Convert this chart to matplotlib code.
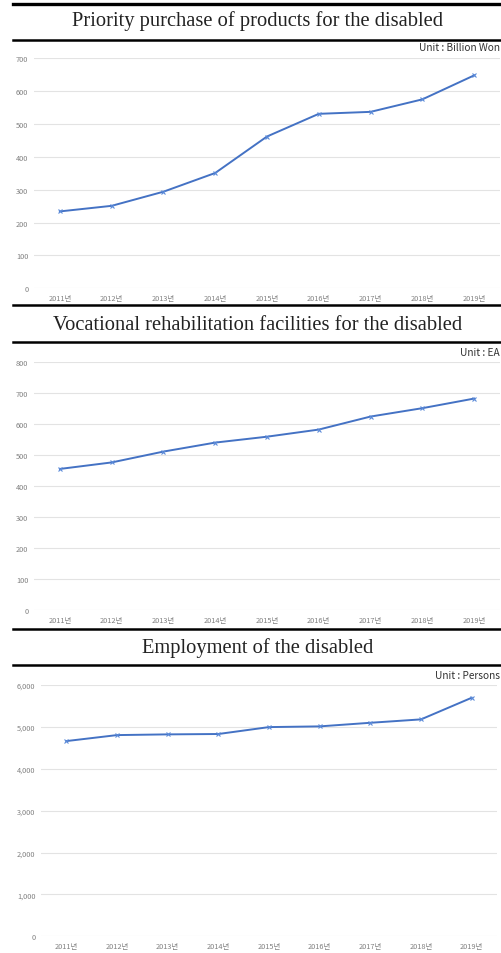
import matplotlib
matplotlib.use('Agg')
import matplotlib.pyplot as plt
from matplotlib.lines import Line2D
from matplotlib.ticker import FuncFormatter

years = ['2011년', '2012년', '2013년', '2014년', '2015년', '2016년', '2017년', '2018년', '2019년']

purchase = [234, 251, 294, 351, 462, 531, 537, 575, 648]
facilities = [456, 477, 512, 541, 560, 583, 625, 652, 683]
employment = [4661, 4804, 4821, 4830, 4995, 5012, 5098, 5179, 5695]

titles = ['Priority purchase of products for the disabled',
          'Vocational rehabilitation facilities for the disabled',
          'Employment of the disabled']
units = ['Unit : Billion Won', 'Unit : EA', 'Unit : Persons']

W, H = 502, 954
fig = plt.figure(figsize=(W / 100, H / 100), dpi=100)
fig.patch.set_facecolor('white')

sans = ['Noto Sans CJK KR', 'DejaVu Sans']


def px_line(y, lw):
    fig.add_artist(Line2D([13 / W, 1.0], [1 - y / H, 1 - y / H],
                          color='black', linewidth=lw, transform=fig.transFigure))


def px_text(x, y, s, **kw):
    fig.text(x / W, 1 - y / H, s, **kw)


# panel layout in pixels: top line, title y, title line, unit y, axes left/right, y top/bottom
panels = [
    dict(data=purchase, ymax=700, step=100, top=5, ty=21, tl=41, uy=48,
         left=34, right=500, ytop=59.3, ybot=289.3),
    dict(data=facilities, ymax=800, step=100, top=306, ty=326, tl=343, uy=353,
         left=34, right=500, ytop=363.3, ybot=611.3),
    dict(data=employment, ymax=6000, step=1000, top=629.5, ty=648, tl=666, uy=676,
         left=41, right=497, ytop=686, ybot=937.3),
]

for i, p in enumerate(panels):
    px_line(p['top'], 2.4 if i == 0 else 1.8)
    px_text(258, p['ty'], titles[i], ha='center', va='center',
            family='Liberation Serif', fontsize=14.8, color='#222222')
    px_line(p['tl'], 1.8)
    px_text(500, p['uy'], units[i], ha='right', va='center',
            family=sans, fontsize=7.3, color='#333333')

    ax = fig.add_axes([p['left'] / W, 1 - p['ybot'] / H,
                       (p['right'] - p['left']) / W, (p['ybot'] - p['ytop']) / H])
    xs = range(len(years))
    ax.plot(xs, p['data'], color='#4472C4', linewidth=1.4, marker='x',
            markersize=3.5, markeredgewidth=0.8, markeredgecolor='#5B8BD9')
    ax.set_xlim(-0.5, len(years) - 0.5)
    ax.set_ylim(0, p['ymax'])
    ax.set_yticks(range(0, p['ymax'] + 1, p['step']))
    ax.yaxis.set_major_formatter(FuncFormatter(lambda v, _: f'{int(v):,}'))
    ax.set_xticks(list(xs))
    ax.set_xticklabels(years)
    ax.grid(axis='y', color='#e3e3e3', linewidth=0.8)
    ax.set_axisbelow(True)
    for s in ax.spines.values():
        s.set_visible(False)
    ax.tick_params(length=0, labelsize=5.3, labelcolor='#808080', pad=4)
    for lab in ax.get_xticklabels() + ax.get_yticklabels():
        lab.set_family(sans)
    ax.patch.set_alpha(0)

plt.savefig('out.png', dpi=100, facecolor='white')
